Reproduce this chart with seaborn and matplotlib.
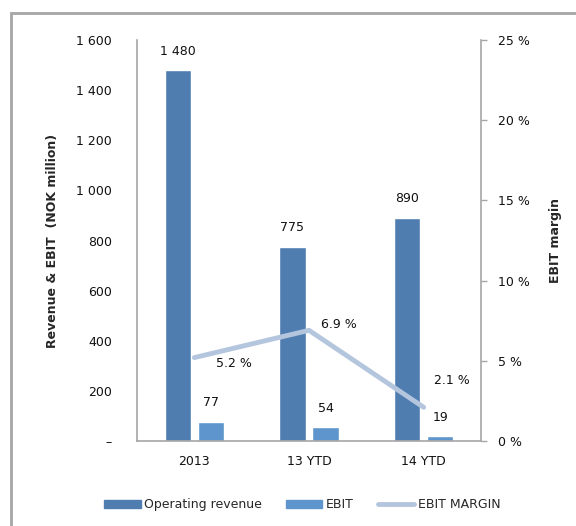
import numpy as np
import pandas as pd
import matplotlib
matplotlib.use("Agg")
import matplotlib.pyplot as plt
import matplotlib.patches as mpatches
import matplotlib.lines as mlines
from matplotlib.ticker import FuncFormatter
import seaborn as sns

# Data
periods = ["2013", "13 YTD", "14 YTD"]
revenue = [1480, 775, 890]
ebit = [77, 54, 19]
ebit_margin = [5.2, 6.9, 2.1]

rev_color = "#4f7db0"
ebit_color = "#5e95cc"
margin_color = "#b4c5de"
grey = "#a6a6a6"
narrow = ["Liberation Sans Narrow", "DejaVu Sans Condensed", "DejaVu Sans"]

sns.set_theme(style="white")
plt.rcParams["font.family"] = ["DejaVu Sans"]

df = pd.DataFrame({
    "period": periods * 2,
    "value": revenue + ebit,
    "series": ["Operating revenue"] * 3 + ["EBIT"] * 3,
})

fig = plt.figure(figsize=(5.76, 5.26), dpi=100)
ax = fig.add_axes([137 / 576, 1 - 441 / 526, 344 / 576, 401 / 526])

sns.barplot(data=df, x="period", y="value", hue="series",
            palette=[rev_color, ebit_color], width=0.576, gap=0.21,
            saturation=1, ax=ax, legend=False)

ax.set_ylim(0, 1600)
ax.set_xlim(-0.5, 2.5)
ax.set_yticks(range(0, 1601, 200))
ax.yaxis.set_major_formatter(FuncFormatter(
    lambda v, p: "–" if v == 0 else f"{int(v):,}".replace(",", " ")))
ax.tick_params(axis="y", length=0, pad=18, labelsize=9, colors="#111111")
ax.tick_params(axis="x", length=0, pad=10, labelsize=9, colors="#111111")
ax.set_xlabel("")
ax.set_ylabel("Revenue & EBIT  (NOK million)", fontsize=9, fontweight="bold",
              family=narrow, labelpad=12)
for side in ["top", "right"]:
    ax.spines[side].set_visible(False)
for side in ["left", "bottom"]:
    ax.spines[side].set_color(grey)
    ax.spines[side].set_linewidth(1.2)

# bar value labels
for container in ax.containers:
    labels = [f"{int(v):,}".replace(",", " ") for v in container.datavalues]
    ax.bar_label(container, labels=labels, padding=9, fontsize=9, color="#111111")

# EBIT margin line on the right axis
ax2 = ax.twinx()
sns.lineplot(x=np.arange(len(periods)), y=ebit_margin, color=margin_color,
             linewidth=3.5, ax=ax2)
ax2.set_ylim(0, 25)
ax2.set_yticks(range(0, 26, 5))
ax2.yaxis.set_major_formatter(FuncFormatter(lambda v, p: f"{int(v)} %"))
ax2.tick_params(axis="y", length=4, width=1, pad=8, labelsize=9,
                colors=grey, labelcolor="#111111")
ax2.set_ylabel("EBIT margin", fontsize=9, fontweight="bold",
               family=narrow, rotation=90, labelpad=14)
for side in ["top", "left", "bottom"]:
    ax2.spines[side].set_visible(False)
ax2.spines["right"].set_color(grey)
ax2.spines["right"].set_linewidth(1.2)

offsets = [(40, -6), (30, 6), (28, 27)]
for i, (m, off) in enumerate(zip(ebit_margin, offsets)):
    ax2.annotate(f"{m:.1f} %", (i, m), xytext=off, textcoords="offset pixels",
                 ha="center", va="center", fontsize=9, color="#111111")

# legend below the plot
handles = [
    mpatches.Patch(color=rev_color, label="Operating revenue"),
    mpatches.Patch(color=ebit_color, label="EBIT"),
    mlines.Line2D([], [], color=margin_color, linewidth=3.5, label="EBIT MARGIN"),
]
fig.legend(handles=handles, loc="center", bbox_to_anchor=(0.525, 0.04), ncol=3,
           frameon=False, fontsize=9, handlelength=2.9, handleheight=0.6,
           columnspacing=1.9, handletextpad=0.3)

# outer frame
fig.patches.append(mpatches.Rectangle((11 / 576, -0.1), 1.2, 1 - 13 / 526 + 0.1,
                                      transform=fig.transFigure, fill=False,
                                      edgecolor=grey, linewidth=2))

fig.savefig("out.png", dpi=100)
